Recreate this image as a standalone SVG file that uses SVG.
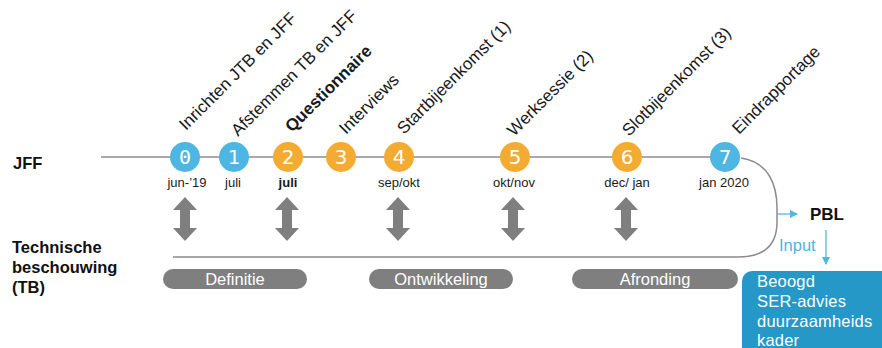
<svg xmlns="http://www.w3.org/2000/svg" width="882" height="348" viewBox="0 0 882 348">
<style>
.lbl{font-family:"Liberation Sans",Arial,sans-serif;font-size:17px;fill:#1a1a1a}
.b{font-weight:bold}
.date{font-family:"Liberation Sans",Arial,sans-serif;font-size:13px;fill:#1a1a1a;text-anchor:middle}
.num{font-family:"DejaVu Sans",sans-serif;font-size:20px;fill:#fff;text-anchor:middle}
.blue{fill:#4db6e2}
.orange{fill:#f4ab32}
.pill{fill:#7f7f7f}
.pilltxt{font-family:"Liberation Sans",Arial,sans-serif;font-size:16.5px;fill:#fff;text-anchor:middle}
.dbl{fill:#7f7f7f}
.side{font-family:"Liberation Sans",Arial,sans-serif;font-size:16.5px;font-weight:bold;fill:#111}
.box{font-family:"Liberation Sans",Arial,sans-serif;font-size:16.5px;fill:#fff;letter-spacing:0.2px}
</style>
<defs>
<marker id="ah" markerWidth="8" markerHeight="8" refX="7" refY="4" orient="auto" markerUnits="userSpaceOnUse">
<path d="M0,0 L8,4 L0,8 Z" fill="#4db6e2"/>
</marker>
<path id="dblarrow" d="M0,-22 L12,-9 L5,-9 L5,9 L12,9 L0,22 L-12,9 L-5,9 L-5,-9 L-12,-9 Z"/>
</defs>
<g id="connectors">
<line x1="101" y1="157" x2="170" y2="157" stroke="#8c8c8c" stroke-width="1.3"/>
<path d="M170,157 L740,157" stroke="#8c8c8c" stroke-width="1.3" fill="none"/>
<path d="M741,158 C768,162 777,184 777,208 L777,222 C777,244 766,257 738,257 L173,257" stroke="#8c8c8c" stroke-width="1.5" fill="none"/>
<line x1="778" y1="214" x2="797" y2="214" stroke="#4db6e2" stroke-width="1.3" marker-end="url(#ah)"/>
<line x1="826" y1="230" x2="826" y2="264" stroke="#4db6e2" stroke-width="1.3" marker-end="url(#ah)"/>
<g class="dbl">
<use href="#dblarrow" x="185" y="219"/>
<use href="#dblarrow" x="287" y="219"/>
<use href="#dblarrow" x="398" y="219"/>
<use href="#dblarrow" x="513" y="219"/>
<use href="#dblarrow" x="626" y="219"/>
</g>
</g>
<g id="labels-left">
<text class="side" x="13" y="169">JFF</text>
<text class="side" x="12" y="253">Technische</text>
<text class="side" x="12" y="273">beschouwing</text>
<text class="side" x="12" y="293">(TB)</text>
</g>
<g id="n0"><circle class="blue" cx="185" cy="157" r="15"/><text class="num" x="185" y="164" style="font-family:'DejaVu Sans Mono',monospace">0</text><text class="date" x="187" y="187">jun-’19</text><text class="lbl" transform="translate(186,131) rotate(-45)">Inrichten JTB en JFF</text></g>
<g id="n1"><circle class="blue" cx="234" cy="157" r="15"/><text class="num" x="234" y="164">1</text><text class="date" x="233" y="187">juli</text><text class="lbl" transform="translate(238,137) rotate(-45)">Afstemmen TB en JFF</text></g>
<g id="n2"><circle class="orange" cx="288" cy="157" r="15"/><text class="num" x="288" y="164">2</text><text class="date b" x="288" y="187">juli</text><text class="lbl b" transform="translate(292,133) rotate(-45)">Questionnaire</text></g>
<g id="n3"><circle class="orange" cx="341" cy="157" r="15"/><text class="num" x="341" y="164">3</text><text class="lbl" transform="translate(346,135) rotate(-45)">Interviews</text></g>
<g id="n4"><circle class="orange" cx="399" cy="157" r="15"/><text class="num" x="399" y="164">4</text><text class="date" x="399" y="187">sep/okt</text><text class="lbl" transform="translate(404,135) rotate(-45)">Startbijeenkomst (1)</text></g>
<g id="n5"><circle class="orange" cx="515" cy="157" r="15"/><text class="num" x="515" y="164">5</text><text class="date" x="514" y="187">okt/nov</text><text class="lbl" transform="translate(514,137) rotate(-45)">Werksessie (2)</text></g>
<g id="n6"><circle class="orange" cx="627" cy="157" r="15"/><text class="num" x="627" y="164">6</text><text class="date" x="627" y="187">dec/ jan</text><text class="lbl" transform="translate(629,137) rotate(-45)">Slotbijeenkomst (3)</text></g>
<g id="n7"><circle class="blue" cx="725" cy="157" r="15"/><text class="num" x="725" y="164">7</text><text class="date" x="724" y="187">jan 2020</text><text class="lbl" transform="translate(739,135) rotate(-45)">Eindrapportage</text></g>
<g id="phase-definitie"><rect class="pill" x="163" y="269" width="144" height="20" rx="10"/><text class="pilltxt" x="235" y="285">Definitie</text></g>
<g id="phase-ontwikkeling"><rect class="pill" x="369" y="269" width="144" height="20" rx="10"/><text class="pilltxt" x="441" y="285">Ontwikkeling</text></g>
<g id="phase-afronding"><rect class="pill" x="572" y="269" width="166" height="20" rx="10"/><text class="pilltxt" x="655" y="285">Afronding</text></g>
<g id="pbl"><text class="side" x="810" y="220" style="font-size:17px">PBL</text></g>
<g id="input"><text x="779" y="251" style="font-family:'Liberation Sans',Arial,sans-serif;font-size:16.5px;fill:#4db6e2">Input</text></g>
<g id="ser-box">
<rect x="742" y="271" width="150" height="90" rx="10" fill="#2598c8"/>
<text class="box" x="757" y="287">Beoogd</text>
<text class="box" x="757" y="307">SER-advies</text>
<text class="box" x="757" y="327">duurzaamheids</text>
<text class="box" x="757" y="346">kader</text>
</g>
</svg>
